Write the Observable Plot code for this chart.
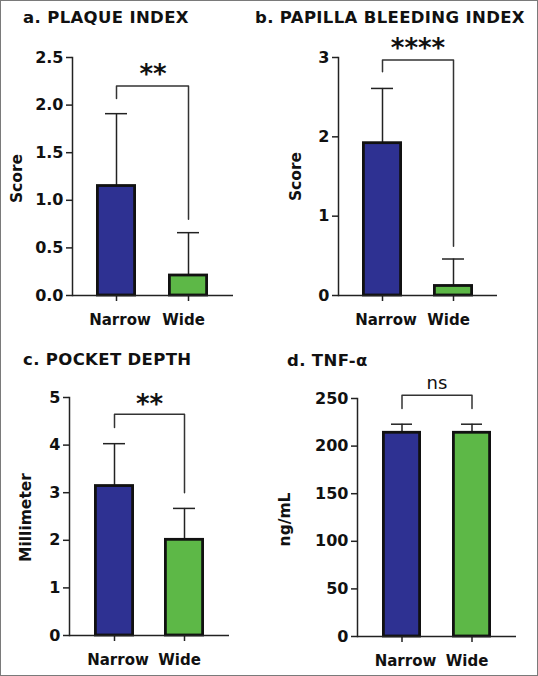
<!DOCTYPE html>
<html>
<head>
<meta charset="utf-8">
<script src="https://cdn.jsdelivr.net/npm/d3@7"></script>
<script src="https://cdn.jsdelivr.net/npm/@observablehq/plot@0.6"></script>
<style>
  html, body { margin: 0; padding: 0; background: #fff; }
  #frame { position: relative; width: 536px; height: 674px; border: 1px solid #7a7a7a; background: #fff; overflow: hidden; }
  .title { position: absolute; font-family: "DejaVu Sans", sans-serif; font-weight: 700; font-size: 16.5px; color: #111; white-space: nowrap; letter-spacing: 0.35px; }
  .panel { position: absolute; }
</style>
</head>
<body>
<div id="frame"></div>
<script>
// ---------- data ----------
const groups = ["Narrow", "Wide"];
const groupColors = ["#2e3192", "#5db847"];

const panelTitles = ["a. PLAQUE INDEX", "b. PAPILLA BLEEDING INDEX", "c. POCKET DEPTH", "d. TNF-α"];
const yLabels = ["Score", "Score", "Millimeter", "ng/mL"];

const plaqueMean = [1.15, 0.21];
const plaqueSD = [0.76, 0.45];
const bleedingMean = [1.92, 0.12];
const bleedingSD = [0.69, 0.34];
const pocketMean = [3.14, 2.01];
const pocketSD = [0.89, 0.66];
const tnfMean = [214, 214];
const tnfSD = [9, 9];

const plaqueTicks = [0, 0.5, 1.0, 1.5, 2.0, 2.5];
const bleedingTicks = [0, 1, 2, 3];
const pocketTicks = [0, 1, 2, 3, 4, 5];
const tnfTicks = [0, 50, 100, 150, 200, 250];

// significance annotations: label, bracket top, left leg end, right leg end, label level (data units)
const sigLabels = ["**", "****", "**", "ns"];
const sigTop = [2.2, 2.97, 4.65, 253.5];
const sigLeftEnd = [2.07, 2.82, 4.37, 239.5];
const sigRightEnd = [0.8, 0.62, 3.0, 239.5];
const sigTextLevel = [2.37, 3.17, 4.96, 266];

// ---------- layout (styling only) ----------
const panels = [
  {mean: plaqueMean, sd: plaqueSD, ticks: plaqueTicks, fmt: d3.format(".1f"),
   left: 0, top: 0, width: 269, height: 338, mL: 71, mR: 37, mT: 56, mB: 44, pi: 0.44, po: 0.33, align: 0.5,
   titleX: 22, titleY: 7, labelX: 16, labelDy: 2},
  {mean: bleedingMean, sd: bleedingSD, ticks: bleedingTicks, fmt: d3.format("d"),
   left: 268, top: 0, width: 269, height: 338, mL: 69, mR: 41, mT: 56, mB: 44, pi: 0.43, po: 0.33, align: 0.5,
   titleX: -14, titleY: 7, labelX: 27, labelDy: 0},
  {mean: pocketMean, sd: pocketSD, ticks: pocketTicks, fmt: d3.format("d"),
   left: 0, top: 336, width: 269, height: 340, mL: 68, mR: 41, mT: 60, mB: 42, pi: 0.43, po: 0.35, align: 0.5,
   titleX: 22, titleY: 13, labelX: 25, labelDy: 1},
  {mean: tnfMean, sd: tnfSD, ticks: tnfTicks, fmt: d3.format("d"),
   left: 268, top: 336, width: 269, height: 340, mL: 88, mR: 22, mT: 61, mB: 41, pi: 0.44, po: 0.34, align: 0.5,
   titleX: 18, titleY: 14, labelX: 16, labelDy: 2}
];

const frame = document.getElementById("frame");
const FONT = "'DejaVu Sans', sans-serif";

panels.forEach((p, k) => {
  const data = groups.map((g, i) => ({group: g, mean: p.mean[i], sd: p.sd[i]}));
  const bracket = [
    {x: groups[0], y: sigLeftEnd[k]},
    {x: groups[0], y: sigTop[k]},
    {x: groups[1], y: sigTop[k]},
    {x: groups[1], y: sigRightEnd[k]}
  ];
  const ns = sigLabels[k] === "ns";
  const chart = Plot.plot({
    width: p.width,
    height: p.height,
    marginLeft: p.mL, marginRight: p.mR, marginTop: p.mT, marginBottom: p.mB,
    style: {fontFamily: FONT, fontWeight: 700, fontSize: "15px", color: "#111", background: "transparent", overflow: "visible"},
    x: {domain: groups, paddingInner: p.pi, paddingOuter: p.po, align: p.align, axis: null},
    y: {domain: [p.ticks[0], p.ticks[p.ticks.length - 1]], axis: null},
    color: {domain: groups, range: groupColors},
    marks: [
      Plot.axisY({ticks: p.ticks, tickFormat: p.fmt, tickSize: 6, tickPadding: 3, label: null, fontSize: 16, stroke: "#222", strokeWidth: 1.5}),
      // tick marks only
      Plot.axisX({ticks: groups, tickSize: 6, tickFormat: () => "", label: null, stroke: "#222", strokeWidth: 1.5}),
      // category labels, nudged together as in the original
      Plot.axisX({ticks: [groups[0]], tickSize: 0, tickPadding: 19, label: null, fontSize: 15, dx: 3.5}),
      Plot.axisX({ticks: [groups[1]], tickSize: 0, tickPadding: 19, label: null, fontSize: 15, dx: -5}),
      Plot.frame({anchor: "left", stroke: "#222", strokeWidth: 1.5}),
      Plot.ruleX(data, {x: "group", y1: "mean", y2: d => d.mean + d.sd, stroke: "#222", strokeWidth: 1.5}),
      Plot.tickY(data, {x: "group", y: d => d.mean + d.sd, insetLeft: 9, insetRight: 9, stroke: "#222", strokeWidth: 1.5}),
      Plot.barY(data, {x: "group", y: "mean", fill: "group", stroke: "#111", strokeWidth: 2.8, insetLeft: 1.4, insetRight: 1.4}),
      Plot.ruleY([0], {stroke: "#222", strokeWidth: 1.5}),
      Plot.line(bracket, {x: "x", y: "y", stroke: "#333", strokeWidth: 1.5}),
      Plot.text([sigLabels[k]], {text: d => d, y: () => sigTextLevel[k], frameAnchor: "middle", lineAnchor: "middle",
        fontSize: ns ? 18 : 26, fontWeight: ns ? 400 : 700, fill: "#111", dy: ns ? 0 : 5}),
      Plot.text([yLabels[k]], {text: d => d, frameAnchor: "left", textAnchor: "middle", lineAnchor: "middle", rotate: -90,
        dx: p.labelX - p.mL, dy: p.labelDy, fontSize: 15.5, fontWeight: 700, fill: "#111"})
    ]
  });
  chart.classList.add("panel");
  chart.style.left = p.left + "px";
  chart.style.top = p.top + "px";
  frame.appendChild(chart);

  const t = document.createElement("div");
  t.className = "title";
  t.textContent = panelTitles[k];
  t.style.left = (p.left + p.titleX) + "px";
  t.style.top = (p.top + p.titleY) + "px";
  frame.appendChild(t);
});
</script>
</body>
</html>
